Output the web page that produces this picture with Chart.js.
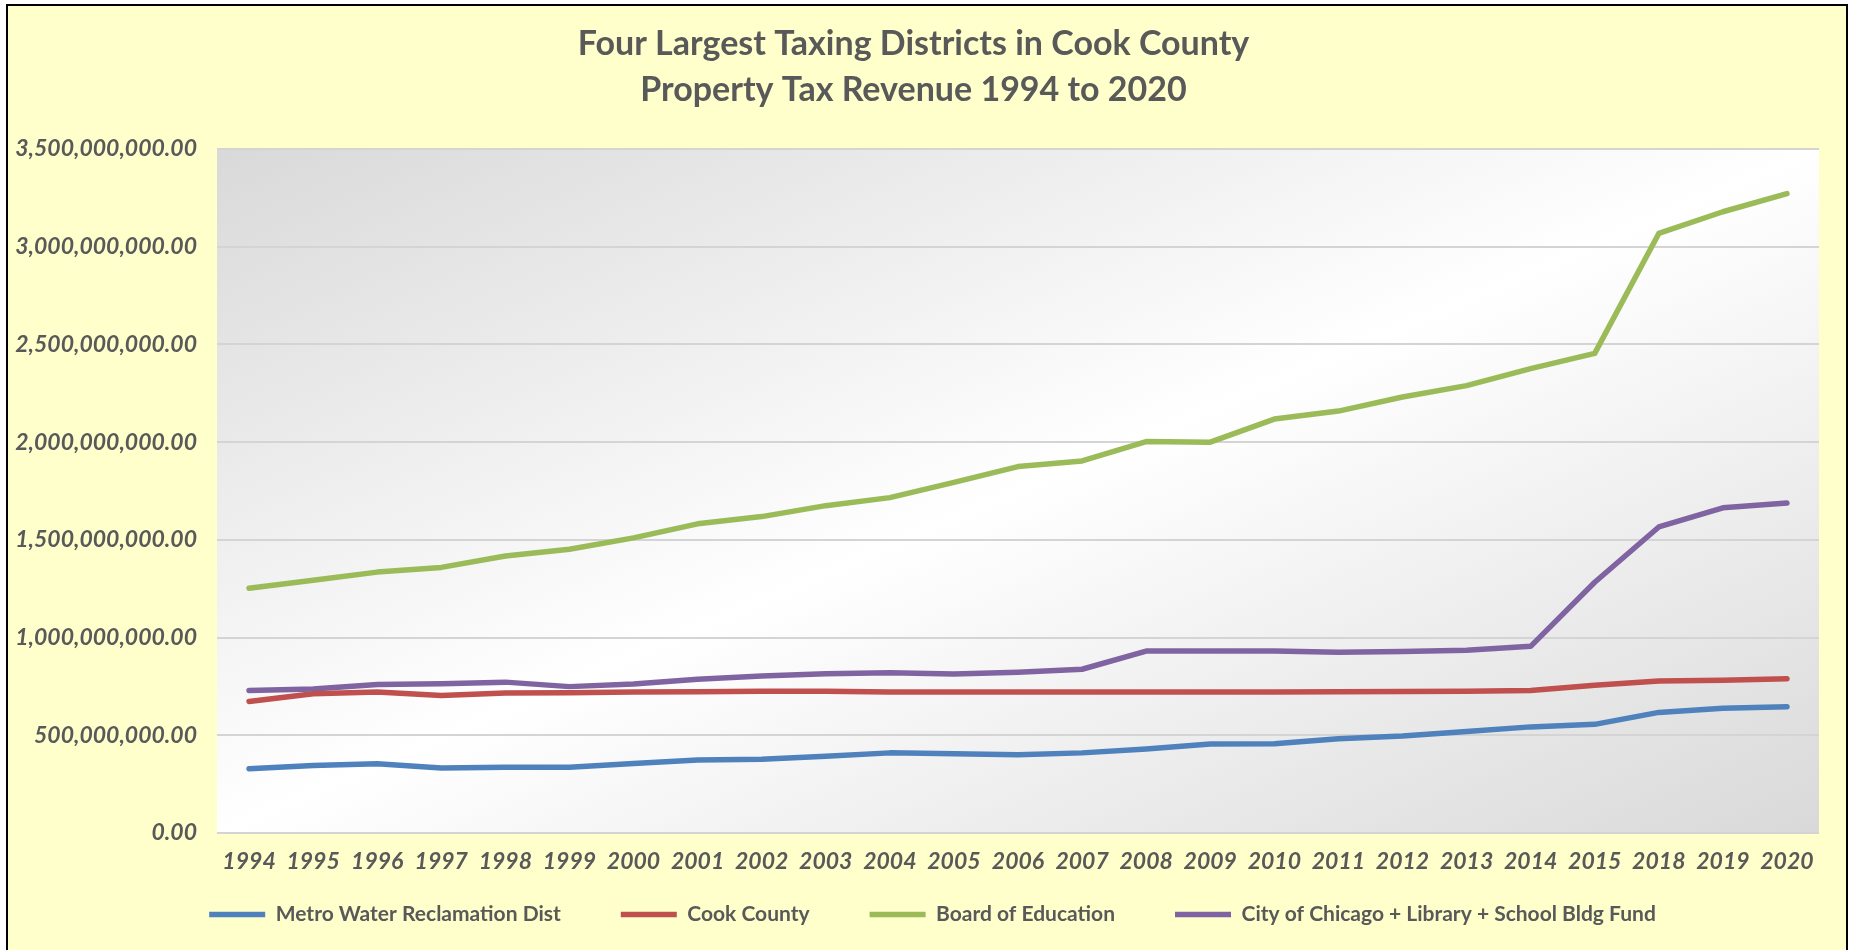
<!DOCTYPE html>
<html lang="en">
<head>
    <meta charset="UTF-8">
    <title>Four Largest Taxing Districts in Cook County</title>
    <script src="https://cdn.jsdelivr.net/npm/chart.js"></script>
    <style>
        body {
            margin: 0;
            background-color: #ffffff;
            overflow: hidden;
        }
        #box {
            position: absolute;
            left: 6px;
            top: 4px;
            width: 1838px;
            height: 966px;
            border: 2px solid #000000;
            background-color: #ffffcc;
        }
        canvas {
            display: block;
        }
    </style>
</head>
<body>
    <div id="box">
        <canvas id="chart" width="1838" height="964"></canvas>
    </div>
    <script>
        // Years (2016 and 2017 are missing in the source)
        const years = ['1994', '1995', '1996', '1997', '1998', '1999', '2000', '2001', '2002', '2003',
            '2004', '2005', '2006', '2007', '2008', '2009', '2010', '2011', '2012', '2013',
            '2014', '2015', '2018', '2019', '2020'];

        const metroWater = [329e6, 345e6, 354e6, 333e6, 337e6, 337e6, 356e6, 374e6, 378e6, 393e6,
            410e6, 405e6, 400e6, 410e6, 430e6, 455e6, 457e6, 482e6, 496e6, 519e6,
            543e6, 556e6, 617e6, 638e6, 646e6];

        const cookCounty = [673e6, 712e6, 721e6, 704e6, 716e6, 718e6, 721e6, 723e6, 725e6, 725e6,
            721e6, 721e6, 721e6, 721e6, 721e6, 722e6, 722e6, 723e6, 724e6, 725e6,
            729e6, 756e6, 778e6, 782e6, 789e6];

        const boardOfEducation = [1252e6, 1293e6, 1335e6, 1359e6, 1417e6, 1452e6, 1510e6, 1582e6, 1619e6, 1675e6,
            1716e6, 1794e6, 1875e6, 1904e6, 2003e6, 2000e6, 2118e6, 2159e6, 2231e6, 2289e6,
            2376e6, 2454e6, 3068e6, 3179e6, 3272e6];

        const cityOfChicago = [729e6, 737e6, 760e6, 764e6, 772e6, 749e6, 762e6, 787e6, 803e6, 815e6,
            820e6, 813e6, 822e6, 838e6, 931e6, 931e6, 931e6, 925e6, 929e6, 935e6,
            955e6, 1283e6, 1566e6, 1664e6, 1689e6];

        const seriesNames = ['Metro Water Reclamation Dist', 'Cook County', 'Board of Education',
            'City of Chicago + Library + School Bldg Fund'];
        const seriesColors = ['#4f81bd', '#c0504d', '#9bbb59', '#8064a2'];
        const seriesData = [metroWater, cookCounty, boardOfEducation, cityOfChicago];

        const yMax = 3500000000;
        const yStep = 500000000;

        const textColor = '#595959';

        // Gradient fill behind the plot area
        const plotBackground = {
            id: 'plotBackground',
            beforeDraw(chart) {
                const { ctx, chartArea: a } = chart;
                const w = a.right - a.left;
                const h = a.bottom - a.top;
                const cx = (a.left + a.right) / 2;
                const cy = (a.top + a.bottom) / 2;
                const k = (w * h) / (w * w + h * h);
                const g = ctx.createLinearGradient(cx - k * h, cy - k * w, cx + k * h, cy + k * w);
                g.addColorStop(0, '#d9d9d9');
                g.addColorStop(0.5, '#ffffff');
                g.addColorStop(1, '#d9d9d9');
                ctx.save();
                ctx.fillStyle = g;
                ctx.fillRect(a.left, a.top, w, h);
                ctx.restore();
            }
        };

        // Pull the legend up closer to the axis and centre it like the original
        const legendShift = {
            id: 'legendShift',
            afterLayout(chart) {
                const l = chart.legend;
                l.top -= 35;
                l.bottom -= 35;
                l.left += 19;
                l.right += 19;
            }
        };

        const ctx = document.getElementById('chart').getContext('2d');
        const chart = new Chart(ctx, {
            type: 'line',
            data: {
                labels: years,
                datasets: seriesData.map((data, i) => ({
                    label: seriesNames[i],
                    data: data,
                    borderColor: seriesColors[i],
                    backgroundColor: seriesColors[i],
                    borderWidth: 5.5,
                    borderCapStyle: 'round',
                    borderJoinStyle: 'round',
                    pointRadius: 0,
                    tension: 0,
                    fill: false,
                })),
            },
            options: {
                responsive: false,
                animation: false,
                layout: {
                    padding: { left: 0, right: 27, top: 0, bottom: 0 },
                },
                plugins: {
                    title: {
                        display: true,
                        text: ['Four Largest Taxing Districts in Cook County', 'Property Tax Revenue 1994 to 2020'],
                        color: textColor,
                        font: { family: 'Lato', size: 34, weight: 'bold', lineHeight: '46px' },
                        padding: { top: 15, bottom: 36 },
                    },
                    legend: {
                        position: 'bottom',
                        labels: {
                            usePointStyle: true,
                            pointStyle: 'line',
                            pointStyleWidth: 56,
                            padding: 60,
                            color: textColor,
                            font: { family: 'Lato', size: 21, weight: 'bold' },
                        },
                    },
                    tooltip: { enabled: false },
                },
                scales: {
                    x: {
                        offset: true,
                        grid: { display: false, drawTicks: false },
                        border: { display: false },
                        ticks: {
                            color: textColor,
                            padding: 15,
                            maxRotation: 0,
                            autoSkip: false,
                            font: { family: 'Lato', size: 23, weight: 'bold', style: 'italic' },
                        },
                        afterFit: (scale) => { scale.height = 46; },
                    },
                    y: {
                        min: 0,
                        max: yMax,
                        grid: { color: '#d4d4d4', lineWidth: 2, drawTicks: false },
                        border: { display: false },
                        ticks: {
                            stepSize: yStep,
                            color: textColor,
                            padding: 20,
                            font: { family: 'Lato', size: 23, weight: 'bold', style: 'italic' },
                            callback: (value) => value.toLocaleString('en-US', { minimumFractionDigits: 2, maximumFractionDigits: 2 }),
                        },
                        afterFit: (scale) => { scale.width = 209; },
                    },
                },
            },
            plugins: [plotBackground, legendShift],
        });
    </script>
</body>
</html>
